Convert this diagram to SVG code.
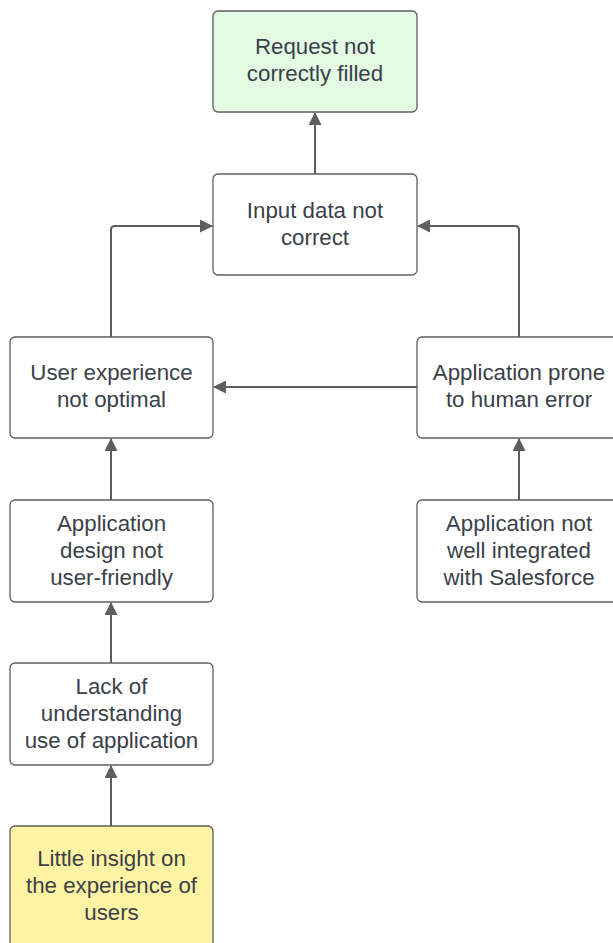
<svg xmlns="http://www.w3.org/2000/svg" width="613" height="943" viewBox="0 0 613 943">
  <style>
    .box { fill: #ffffff; stroke: #5e5e5e; stroke-width: 1.3; }
    .green { fill: #e3fae3; }
    .yellow { fill: #fff4a3; }
    .lbl { font-family: "Liberation Sans", Arial, sans-serif; font-size: 22.3px; fill: #3a414a; text-anchor: middle; }
    .edge { fill: none; stroke: #5e5e5e; stroke-width: 2; }
  </style>
  <defs>
    <marker id="arrow" markerWidth="13" markerHeight="13" viewBox="0 0 13 13" refX="12" refY="6.5" orient="auto" markerUnits="userSpaceOnUse">
      <path d="M0,0 L13,6.5 L0,13 Z" fill="#5e5e5e"/>
    </marker>
  </defs>
  <rect width="613" height="943" fill="#ffffff"/>

  <g id="connectors">
    <path class="edge" d="M315,174 V113" marker-end="url(#arrow)"/>
    <path class="edge" d="M111,337 V230 Q111,226 115,226 H212" marker-end="url(#arrow)"/>
    <path class="edge" d="M519,337 V230 Q519,226 515,226 H418" marker-end="url(#arrow)"/>
    <path class="edge" d="M417,387 H214" marker-end="url(#arrow)"/>
    <path class="edge" d="M111,500 V439" marker-end="url(#arrow)"/>
    <path class="edge" d="M519,500 V439" marker-end="url(#arrow)"/>
    <path class="edge" d="M111,663 V603" marker-end="url(#arrow)"/>
    <path class="edge" d="M111,826 V766" marker-end="url(#arrow)"/>
  </g>

  <g id="request-not-filled">
    <rect class="box green" x="213" y="11" width="204" height="101" rx="5"/>
    <text class="lbl" x="315" y="54">Request not</text>
    <text class="lbl" x="315" y="81">correctly filled</text>
  </g>

  <g id="input-data">
    <rect class="box" x="213" y="174" width="204" height="101" rx="5"/>
    <text class="lbl" x="315" y="218">Input data not</text>
    <text class="lbl" x="315" y="245">correct</text>
  </g>

  <g id="user-experience">
    <rect class="box" x="10" y="337" width="203" height="101" rx="5"/>
    <text class="lbl" x="111.5" y="380">User experience</text>
    <text class="lbl" x="111.5" y="407">not optimal</text>
  </g>

  <g id="human-error">
    <rect class="box" x="417" y="337" width="204" height="101" rx="5"/>
    <text class="lbl" x="519" y="380">Application prone</text>
    <text class="lbl" x="519" y="407">to human error</text>
  </g>

  <g id="design">
    <rect class="box" x="10" y="500" width="203" height="102" rx="5"/>
    <text class="lbl" x="111.5" y="531">Application</text>
    <text class="lbl" x="111.5" y="558">design not</text>
    <text class="lbl" x="111.5" y="585">user-friendly</text>
  </g>

  <g id="integration">
    <rect class="box" x="417" y="500" width="204" height="102" rx="5"/>
    <text class="lbl" x="519" y="531">Application not</text>
    <text class="lbl" x="519" y="558">well integrated</text>
    <text class="lbl" x="519" y="585">with Salesforce</text>
  </g>

  <g id="lack-understanding">
    <rect class="box" x="10" y="663" width="203" height="102" rx="5"/>
    <text class="lbl" x="111.5" y="694">Lack of</text>
    <text class="lbl" x="111.5" y="721">understanding</text>
    <text class="lbl" x="111.5" y="748">use of application</text>
  </g>

  <g id="little-insight">
    <rect class="box yellow" x="10" y="826" width="203" height="122" rx="5"/>
    <text class="lbl" x="111.5" y="866">Little insight on</text>
    <text class="lbl" x="111.5" y="893">the experience of</text>
    <text class="lbl" x="111.5" y="920">users</text>
  </g>
</svg>
